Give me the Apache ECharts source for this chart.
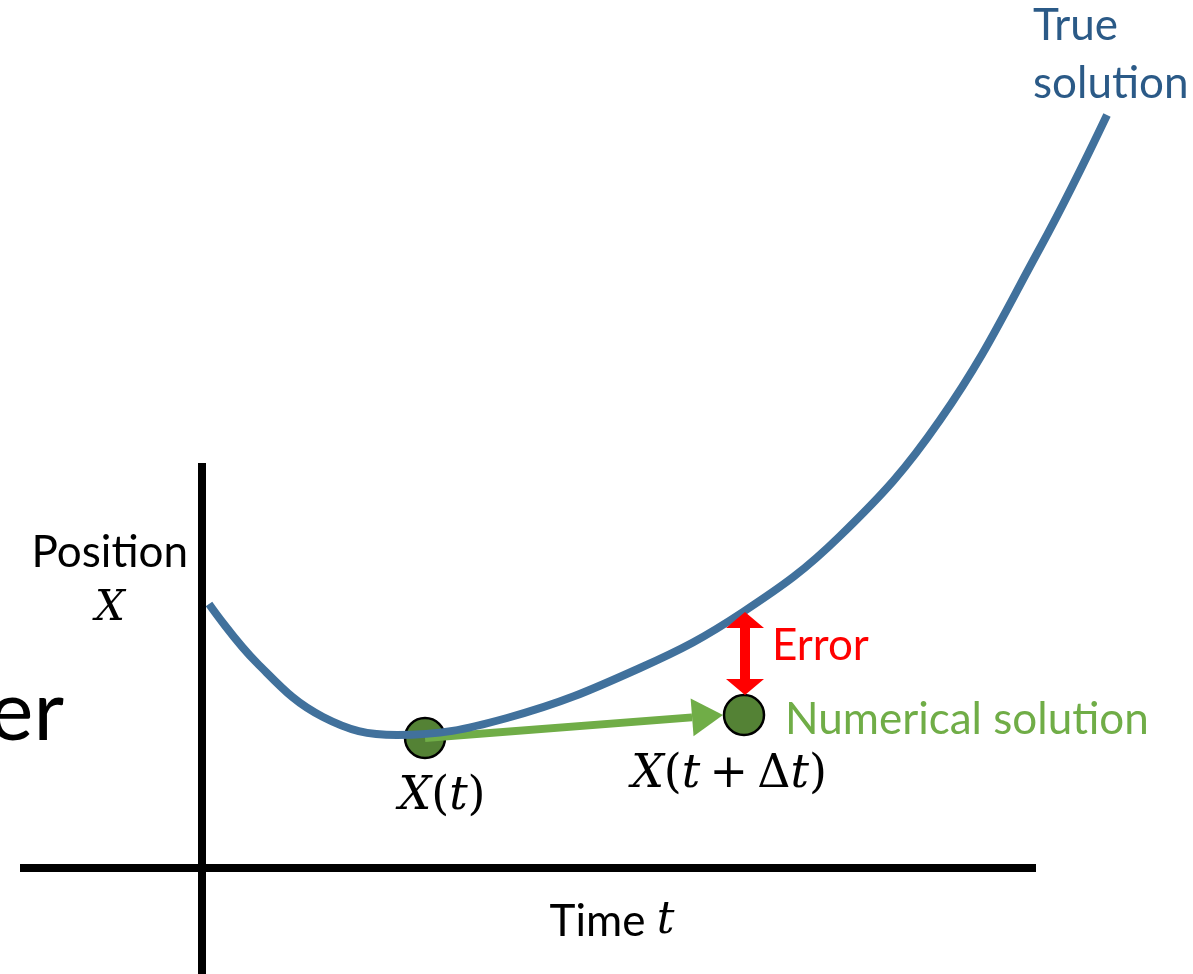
<!DOCTYPE html>
<html>
<head>
<meta charset="utf-8">
<title>Numerical solution step</title>
<script src="https://cdn.jsdelivr.net/npm/echarts@6/dist/echarts.min.js"></script>
<style>
  html, body { margin: 0; padding: 0; background: #fff; }
  #chart { width: 1193px; height: 974px; }
</style>
</head>
<body>
<div id="chart"></div>
<script>
// true solution X(t) (origin = axis crossing)
const trueT = [7, 55, 121, 195, 305, 438, 541, 638, 738, 838, 905];
const trueX = [264, 205, 151, 133, 150, 200, 256, 332, 448, 620, 753];

// one Euler step: X(t) and X(t + dt)
const stepT = [223, 542];
const stepX = [130, 153];

// arrows: [t0, x0, t1, x1]
const stepArrow = [223, 130, 521, 153];
const errorArrow = [543, 256, 543, 173];

// axis extents
const tAxisRange = [-182, 834];
const xAxisRange = [-106, 405];

const chart = echarts.init(document.getElementById('chart'));

const mathFont = 'DejaVu Serif';
const textFont = 'Lato';

function arrowItem(arrow, opts) {
  return function (params, api) {
    const p0 = api.coord([arrow[0], arrow[1]]);
    const p1 = api.coord([arrow[2], arrow[3]]);
    const dx = p1[0] - p0[0], dy = p1[1] - p0[1];
    const len = Math.sqrt(dx * dx + dy * dy);
    const ux = dx / len, uy = dy / len;
    const nx = -uy, ny = ux;
    const hl = opts.headLen, hw = opts.headHalf;
    const head = (tip, sx, sy) => ({
      type: 'polygon',
      shape: { points: [
        tip,
        [tip[0] - sx * hl + nx * hw, tip[1] - sy * hl + ny * hw],
        [tip[0] - sx * hl - nx * hw, tip[1] - sy * hl - ny * hw]
      ] },
      style: { fill: opts.color }
    });
    const s0 = opts.both ? [p0[0] + ux * hl, p0[1] + uy * hl] : p0;
    const s1 = [p1[0] - ux * hl, p1[1] - uy * hl];
    const children = [{
      type: 'line',
      shape: { x1: s0[0], y1: s0[1], x2: s1[0], y2: s1[1] },
      style: { stroke: opts.color, lineWidth: opts.width }
    }, head(p1, ux, uy)];
    if (opts.both) children.push(head(p0, -ux, -uy));
    return { type: 'group', children: children };
  };
}

const mathRich = (size) => ({
  i: { fontFamily: mathFont, fontStyle: 'italic', fontSize: size, fill: '#000' },
  n: { fontFamily: mathFont, fontSize: size, fill: '#000' },
  s: { fontFamily: textFont, fontSize: size, fill: '#000' }
});

const option = {
  backgroundColor: '#fff',
  animation: false,
  grid: { left: 0, right: 0, top: 0, bottom: 0 },
  xAxis: { type: 'value', min: -202, max: 991, show: false },
  yAxis: { type: 'value', min: -106, max: 868, show: false },
  series: [
    {
      type: 'line',
      data: [[tAxisRange[0], 0], [tAxisRange[1], 0]],
      symbol: 'none',
      lineStyle: { color: '#000', width: 8, cap: 'butt' },
      z: 1
    },
    {
      type: 'line',
      data: [[0, xAxisRange[1]], [0, xAxisRange[0]]],
      symbol: 'none',
      lineStyle: { color: '#000', width: 8, cap: 'butt' },
      z: 1
    },
    {
      type: 'scatter',
      data: stepT.map((t, i) => [t, stepX[i]]),
      symbolSize: 40,
      itemStyle: { color: '#548235', borderColor: '#000', borderWidth: 2.5, opacity: 1 },
      z: 2
    },
    {
      type: 'custom',
      data: [0],
      renderItem: arrowItem(stepArrow, { color: '#70AD47', width: 8, headLen: 31, headHalf: 19 }),
      z: 3
    },
    {
      type: 'line',
      data: trueT.map((t, i) => [t, trueX[i]]),
      smooth: 0.4,
      symbol: 'none',
      lineStyle: { color: '#41719C', width: 8, cap: 'butt' },
      z: 4
    },
    {
      type: 'custom',
      data: [0],
      renderItem: arrowItem(errorArrow, { color: '#FF0000', width: 10, headLen: 16, headHalf: 19, both: true }),
      z: 5
    }
  ],
  graphic: [
    { type: 'text', x: 1033, y: -3, style: { text: 'True\nsolution', fill: '#2B5A87', font: '44px ' + textFont, lineHeight: 58, textVerticalAlign: 'top' } },
    { type: 'text', x: 188, y: 553, style: { text: 'Position', fill: '#000', font: '44px ' + textFont, textAlign: 'right', textVerticalAlign: 'middle' } },
    { type: 'text', x: 110, y: 609, style: { text: 'X', fill: '#000', font: 'italic 42px ' + mathFont, textAlign: 'center', textVerticalAlign: 'middle' } },
    { type: 'text', x: 64, y: 713, style: { text: 'er', fill: '#000', font: '84px ' + textFont, textAlign: 'right', textVerticalAlign: 'middle' } },
    { type: 'text', x: 772, y: 646, style: { text: 'Error', fill: '#FF0000', font: '44px ' + textFont, textVerticalAlign: 'middle' } },
    { type: 'text', x: 785, y: 720, style: { text: 'Numerical solution', fill: '#70AD47', font: '44px ' + textFont, textVerticalAlign: 'middle' } },
    { type: 'text', x: 442, y: 797, style: {
      text: '{i|X}{n|(}{i|t}{n|)}', textAlign: 'center', textVerticalAlign: 'middle', rich: mathRich(46)
    } },
    { type: 'text', x: 729, y: 775, style: {
      text: '{i|X}{n|(}{i|t}{n|\u2009+\u2009Δ}{i|t}{n|)}', textAlign: 'center', textVerticalAlign: 'middle', rich: mathRich(46)
    } },
    { type: 'text', x: 612, y: 922, style: {
      text: '{s|Time }{i|t}', textAlign: 'center', textVerticalAlign: 'middle', rich: mathRich(44)
    } }
  ]
};

chart.setOption(option);
</script>
</body>
</html>
